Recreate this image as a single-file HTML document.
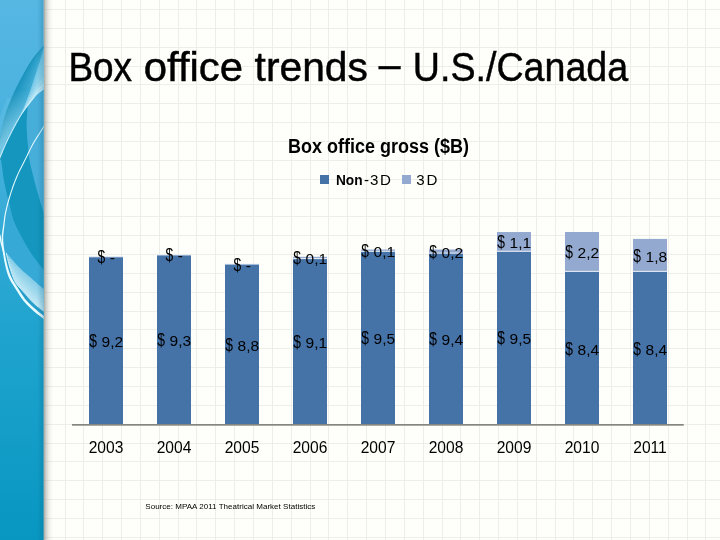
<!DOCTYPE html>
<html lang="en"><head><meta charset="utf-8"><title>Box office trends – U.S./Canada</title>
<style>
html,body{margin:0;padding:0;background:#fefefa;}
body{width:720px;height:540px;overflow:hidden;position:relative;font-family:"Liberation Sans", sans-serif;}
svg{position:absolute;left:0;top:0;display:block}
text{font-family:"Liberation Sans", sans-serif;fill:#000}
</style></head><body>
<svg width="720" height="540" viewBox="0 0 720 540">
<defs>
<linearGradient id="strip" x1="0" y1="0" x2="0" y2="1">
<stop offset="0" stop-color="#56b7e3"/><stop offset="0.25" stop-color="#49b1de"/><stop offset="0.6" stop-color="#20a4cf"/><stop offset="1" stop-color="#0797c1"/>
</linearGradient>
<linearGradient id="shadow" x1="0" y1="0" x2="1" y2="0">
<stop offset="0" stop-color="#70746e" stop-opacity="0.72"/><stop offset="0.25" stop-color="#8a8d86" stop-opacity="0.42"/><stop offset="0.6" stop-color="#9a9c94" stop-opacity="0.13"/><stop offset="1" stop-color="#b0b0a8" stop-opacity="0"/>
</linearGradient>
<linearGradient id="edge" x1="0" y1="0" x2="1" y2="0"><stop offset="0" stop-color="#04506e" stop-opacity="0"/><stop offset="1" stop-color="#04506e" stop-opacity="0.22"/></linearGradient>
<linearGradient id="fade" gradientUnits="userSpaceOnUse" x1="0" y1="90" x2="0" y2="150"><stop offset="0" stop-color="#bfe9f6" stop-opacity="0"/><stop offset="1" stop-color="#bfe9f6" stop-opacity="0.5"/></linearGradient>
<clipPath id="stripclip"><rect x="0" y="0" width="43.6" height="540"/></clipPath>
</defs>
<rect width="720" height="540" fill="#fefefa"/>
<path id="gridlines" d="M65.5 0V540M83.5 0V540M102.5 0V540M121.5 0V540M140.5 0V540M159.5 0V540M178.5 0V540M196.5 0V540M215.5 0V540M234.5 0V540M253.5 0V540M272.5 0V540M291.5 0V540M310.5 0V540M328.5 0V540M347.5 0V540M366.5 0V540M385.5 0V540M404.5 0V540M423.5 0V540M442.5 0V540M460.5 0V540M479.5 0V540M498.5 0V540M517.5 0V540M536.5 0V540M555.5 0V540M573.5 0V540M592.5 0V540M611.5 0V540M630.5 0V540M649.5 0V540M668.5 0V540M687.5 0V540M705.5 0V540M44 9.5H720M44 28.5H720M44 47.5H720M44 66.5H720M44 84.5H720M44 103.5H720M44 122.5H720M44 141.5H720M44 160.5H720M44 179.5H720M44 198.5H720M44 216.5H720M44 235.5H720M44 254.5H720M44 273.5H720M44 292.5H720M44 311.5H720M44 329.5H720M44 348.5H720M44 367.5H720M44 386.5H720M44 405.5H720M44 424.5H720M44 443.5H720M44 461.5H720M44 480.5H720M44 499.5H720M44 518.5H720M44 537.5H720" stroke="#eeeee8" stroke-width="1" fill="none" shape-rendering="crispEdges"/>
<rect x="43.4" y="0" width="10" height="540" fill="url(#shadow)"/>
<g clip-path="url(#stripclip)">
<rect x="0" y="0" width="44" height="540" fill="url(#strip)"/>
<path d="M45 88 L42.1 90.2 L39.2 92.3 L36.7 94.4 L34.6 96.8 L32.2 100 L30.8 101.7 L29.2 103.8 L28.6 105 L27.8 106.7 L27.5 109.5 L27.2 113.2 L26.9 117 L26.8 119.5 L26.7 122 L26.6 124.7 L26.7 127.8 L26.8 130.2 L27 132.9 L27.1 135.8 L27.3 138.7 L27.6 141.6 L27.8 144.4 L28.1 147.6 L28.3 150.7 L28.6 153.7 L28.9 156.8 L29.4 160 L29.9 162.7 L30.5 165.5 L31.2 168.3 L31.9 171.1 L32.6 173.9 L33.3 176.7 L34 179.5 L34.8 182.4 L35.5 185.2 L36.3 188 L37.1 190.7 L37.8 193.3 L38.6 196.2 L39.4 199 L40.2 201.7 L41 204.3 L41.7 206.7 L42.6 209.5 L43.4 212 L44.2 214.5 L45 217 L45 217Z" fill="#47aeda"/>
<path d="M27.5 106 L25.7 108.4 L23.9 110.9 L22.2 113.3 L20.6 115.8 L19.1 118.3 L17.6 121 L16.1 123.6 L14.7 126.3 L13.3 128.9 L11.9 131.5 L10.6 134.1 L9.3 136.7 L8 139.3 L6.8 141.9 L5.6 144.4 L4.3 147.4 L3 150.3 L1.9 153.2 L0.7 156.1 L-0.5 159 L1.1 160 L1.4 161.9 L1.7 164.4 L2.1 167.4 L2.5 170.6 L2.9 173.7 L3.3 176.7 L3.8 179.5 L4.3 182.4 L4.9 185.2 L5.5 188 L6.1 190.7 L6.7 193.3 L7.4 196.2 L8 198.9 L8.7 201.5 L9.3 204.1 L10 206.7 L10.6 209.4 L11.2 212.1 L11.8 214.8 L12.5 217.4 L13.3 220 L14.5 223.1 L15.9 226.2 L17.4 229.2 L18.9 232.2 L20.2 234.6 L21.5 237.1 L22.8 239.5 L24.2 242 L25.6 244.4 L27 246.9 L28.5 249.3 L30 251.8 L31.6 254.2 L33.3 256.7 L35.2 259.3 L37.3 262 L39.4 264.7 L41.3 267.1 L42.8 268.9 L45 271.7 L45 217 L44.2 214.5 L43.4 212 L42.6 209.5 L41.7 206.7 L41 204.3 L40.2 201.7 L39.4 199 L38.6 196.2 L37.8 193.3 L37.1 190.7 L36.3 188 L35.5 185.2 L34.8 182.4 L34 179.5 L33.3 176.7 L32.6 173.9 L31.9 171.1 L31.2 168.3 L30.5 165.5 L29.9 162.7 L29.4 160 L28.9 156.8 L28.6 153.7 L28.3 150.7 L28.1 147.6 L27.8 144.4 L27.6 141.6 L27.3 138.7 L27.1 135.8 L27 132.9 L26.8 130.2 L26.7 127.8 L26.6 124.7 L26.7 122 L26.8 119.5 L26.9 117 L27.2 113.2 L27.5 109.5 L27.8 106.7 L28.6 105Z" fill="#1496be"/>
<path d="M9.3 204.1 L10 206.7 L10.6 209.4 L11.2 212.1 L11.8 214.8 L12.5 217.4 L13.3 220 L14.5 223.1 L15.9 226.2 L17.4 229.2 L18.9 232.2 L20.2 234.6 L21.5 237.1 L22.8 239.5 L24.2 242 L25.6 244.4 L27 246.9 L28.5 249.3 L30 251.8 L31.6 254.2 L33.3 256.7 L35.2 259.3 L37.3 262 L39.4 264.7 L41.3 267.1 L42.8 268.9 L45 271.7 L45 290 L45 290 L43.1 288.5 L41.2 287 L38.9 285 L36.6 283 L34.1 280.7 L31.4 278.3 L28.9 276.1 L26.6 274.1 L24.4 272.3 L22.2 270.4 L20 268.3 L17.7 265.8 L15.3 263.2 L13.1 260.5 L11.1 258.3 L8.4 255.3 L6.1 252.8 L3.5 250.4 L3.1 247.6 L2.8 245 L2.5 241.9 L2.4 239.1 L2.5 236 L2.7 233.4 L3.1 230.5 L3.5 227.7 L3.9 225 L4.2 221.9 L4.5 218.9 L5 215.6 L5.5 212.8 L6.2 209.8 L6.9 206.6 L7.8 203.3Z" fill="#37a9d6"/>
<path d="M45 44.2 L40.8 49 L36.5 53.8 L32.6 58.8 L29.1 64.1 L25.9 69.6 L22.7 75.2 L19.7 80.8 L16.8 86.5 L14 92.3 L11.5 98.1 L9 104 L6.7 109.9 L4.8 116 L3.3 122.2 L1.9 128.5 L0.7 134.7 L-0.5 141 L-0.5 142.9 L1.1 136.7 L2.7 130.5 L4.3 124.2 L6.2 118.1 L8.4 112 L10.9 106.1 L13.6 100.2 L16.3 94.3 L19 88.4 L21.7 82.6 L24.5 76.8 L27.5 71 L30.5 65.4 L33.8 59.8 L37.3 54.5 L41.2 49.4 L45 44.3Z" fill="#1d94bd"/>
<path d="M45 44.3 L41.1 49.3 L37.2 54.3 L33.5 59.6 L30.2 65.1 L27.1 70.7 L24.1 76.4 L21.2 82.2 L18.5 88 L15.8 93.9 L13.1 99.7 L10.5 105.6 L8 111.6 L5.9 117.6 L4.1 123.8 L2.6 130.1 L1 136.3 L-0.5 142.5 L-0.5 144.4 L1.5 138.3 L3.4 132.1 L5.2 125.8 L7.2 119.6 L9.6 113.6 L12.3 107.7 L15.2 101.8 L18 95.9 L20.6 89.9 L23.2 83.9 L25.9 78 L28.7 72.1 L31.6 66.3 L34.7 60.6 L38 55.1 L41.5 49.7 L45 44.3Z" fill="#2398c2"/>
<path d="M45 44.3 L41.4 49.6 L37.8 54.9 L34.4 60.4 L31.3 66.1 L28.4 71.8 L25.5 77.7 L22.8 83.6 L20.2 89.5 L17.5 95.5 L14.7 101.4 L11.9 107.2 L9.3 113.2 L6.9 119.2 L4.9 125.4 L3.2 131.6 L1.4 137.8 L-0.5 144 L-0.5 145.9 L1.8 139.8 L4 133.7 L6 127.4 L8.2 121.2 L10.9 115.2 L13.8 109.3 L16.8 103.5 L19.7 97.5 L22.3 91.4 L24.7 85.3 L27.2 79.2 L29.9 73.2 L32.7 67.3 L35.6 61.4 L38.6 55.6 L41.8 50 L45 44.4Z" fill="#289cc6"/>
<path d="M45 44.4 L41.7 49.9 L38.4 55.5 L35.3 61.2 L32.4 67 L29.6 72.9 L26.9 78.9 L24.3 84.9 L21.8 91 L19.2 97.1 L16.4 103 L13.4 108.9 L10.6 114.8 L8 120.8 L5.8 127 L3.8 133.2 L1.7 139.4 L-0.5 145.5 L-0.5 147.4 L2.1 141.4 L4.6 135.3 L6.8 129 L9.3 122.8 L12.2 116.8 L15.3 111 L18.5 105.1 L21.5 99.1 L24 93 L26.3 86.7 L28.6 80.5 L31.2 74.3 L33.8 68.2 L36.5 62.2 L39.3 56.2 L42.2 50.3 L45 44.4Z" fill="#2ea0c9"/>
<path d="M45 44.4 L42.1 50.2 L39.1 56 L36.2 61.9 L33.5 68 L30.8 74 L28.2 80.1 L25.8 86.3 L23.5 92.5 L21 98.7 L18 104.6 L14.9 110.5 L11.8 116.4 L9 122.4 L6.6 128.5 L4.4 134.8 L2 140.9 L-0.5 147 L-0.5 148.9 L2.4 142.9 L5.2 136.8 L7.7 130.6 L10.3 124.4 L13.5 118.5 L16.8 112.6 L20.1 106.7 L23.2 100.7 L25.7 94.5 L27.8 88.1 L30 81.7 L32.4 75.4 L34.9 69.2 L37.4 62.9 L39.9 56.8 L42.5 50.6 L45 44.5Z" fill="#33a3cc"/>
<path d="M45 44.5 L42.4 50.6 L39.7 56.6 L37.1 62.7 L34.6 68.9 L32.1 75.1 L29.6 81.4 L27.4 87.7 L25.2 94 L22.7 100.3 L19.7 106.3 L16.4 112.1 L13.1 118 L10 124 L7.4 130.1 L5.1 136.4 L2.3 142.5 L-0.5 148.5 L-0.5 150.4 L2.8 144.5 L5.9 138.4 L8.5 132.2 L11.4 126 L14.7 120.1 L18.3 114.2 L21.8 108.4 L24.9 102.3 L27.4 96 L29.3 89.5 L31.4 83 L33.7 76.5 L36 70.1 L38.3 63.7 L40.5 57.3 L42.8 51 L45 44.6Z" fill="#39a7d0"/>
<path d="M45 44.5 L42.7 50.9 L40.4 57.2 L38 63.5 L35.7 69.9 L33.3 76.2 L31 82.6 L28.9 89.1 L26.9 95.6 L24.4 101.9 L21.3 107.9 L17.9 113.8 L14.4 119.6 L11.1 125.5 L8.3 131.7 L5.7 138 L2.7 144 L-0.5 150 L-0.5 151.5 L3 145.6 L6.3 139.6 L9.1 133.3 L12.1 127.1 L15.7 121.2 L19.3 115.4 L22.9 109.6 L26.2 103.5 L28.6 97.1 L30.4 90.5 L32.4 83.9 L34.6 77.3 L36.8 70.8 L38.9 64.3 L41 57.8 L43 51.2 L45 44.6Z" fill="#3eabd3"/>
<path d="M45 44.2 L40.8 49 L36.5 53.8 L32.6 58.8 L29.1 64.1 L25.9 69.6 L22.7 75.2 L19.7 80.8 L16.8 86.5 L14 92.3 L11.5 98.1 L9 104 L6.7 109.9 L4.8 116 L3.3 122.2 L1.9 128.5 L0.7 134.7 L-0.5 141 L-0.5 151.5 L3 145.6 L6.3 139.6 L9.1 133.3 L12.1 127.1 L15.7 121.2 L19.3 115.4 L22.9 109.6 L26.2 103.5 L28.6 97.1 L30.4 90.5 L32.4 83.9 L34.6 77.3 L36.8 70.8 L38.9 64.3 L41 57.8 L43 51.2 L45 44.6Z" fill="url(#fade)"/>
<path d="M45 44.6 L43 51.2 L41 57.8 L38.9 64.3 L36.8 70.8 L34.6 77.3 L32.4 83.9 L30.4 90.5 L28.6 97.1 L26.2 103.5 L22.9 109.6 L19.3 115.4 L15.7 121.2 L12.1 127.1 L9.1 133.3 L6.3 139.6 L3 145.6 L-0.5 151.5 L-0.5 152.9 L2.7 147.2 L5.8 141.4 L8.4 135.4 L11.3 129.6 L14.6 123.9 L18 118.4 L21.3 112.8 L24.4 107 L26.8 100.9 L28.9 94.8 L31 88.6 L33.3 82.6 L35.7 76.5 L38 70.4 L40.3 64.4 L42.7 58.5 L45 52.5Z" fill="#73c7e7"/>
<path d="M45 50.8 L42.7 56.9 L40.4 62.9 L38.2 69.1 L35.9 75.3 L33.6 81.4 L31.3 87.6 L29.2 93.8 L27.2 100.1 L24.8 106.2 L21.7 112.1 L18.3 117.7 L14.8 123.3 L11.5 129 L8.6 135 L5.9 141 L2.8 146.8 L-0.5 152.6 L-0.5 153.9 L2.5 148.4 L5.3 142.9 L7.9 137.1 L10.6 131.5 L13.7 126 L16.9 120.7 L20.1 115.3 L23.1 109.7 L25.5 104 L27.6 98.1 L29.8 92.3 L32.3 86.6 L34.8 81 L37.2 75.2 L39.7 69.6 L42.4 64.2 L45 58.7Z" fill="#7acae8"/>
<path d="M45 57 L42.5 62.6 L39.9 68.1 L37.4 73.9 L35.1 79.7 L32.6 85.5 L30.2 91.3 L28 97.2 L25.9 103.1 L23.4 109 L20.5 114.6 L17.2 120 L13.9 125.5 L10.8 130.9 L8 136.7 L5.4 142.5 L2.5 148.1 L-0.5 153.6 L-0.5 155 L2.2 149.7 L4.9 144.3 L7.3 138.8 L9.9 133.4 L12.8 128.2 L15.9 123 L18.9 117.8 L21.7 112.5 L24.1 107 L26.4 101.5 L28.7 96 L31.3 90.7 L33.9 85.4 L36.5 80 L39.1 74.8 L42.1 69.8 L45 64.9Z" fill="#81cdea"/>
<path d="M45 63.2 L42.2 68.3 L39.3 73.3 L36.7 78.7 L34.2 84.2 L31.6 89.6 L29 95 L26.7 100.6 L24.5 106.2 L22.1 111.7 L19.2 117.1 L16.2 122.3 L13.1 127.6 L10.1 132.9 L7.5 138.3 L5 143.9 L2.3 149.3 L-0.5 154.7 L-0.5 156.1 L2 150.9 L4.5 145.8 L6.8 140.5 L9.2 135.3 L12 130.3 L14.8 125.3 L17.6 120.3 L20.3 115.2 L22.8 110.1 L25.1 104.9 L27.6 99.8 L30.3 94.8 L33.1 89.8 L35.8 84.8 L38.6 80 L41.8 75.5 L45 71.1Z" fill="#88d0eb"/>
<path d="M45 69.4 L41.9 73.9 L38.7 78.5 L36 83.5 L33.3 88.6 L30.6 93.6 L27.9 98.7 L25.5 103.9 L23.2 109.2 L20.7 114.5 L18 119.6 L15.1 124.6 L12.2 129.7 L9.4 134.8 L6.9 140 L4.6 145.4 L2.1 150.6 L-0.5 155.8 L-0.5 157.2 L1.8 152.2 L4 147.2 L6.2 142.2 L8.6 137.2 L11.1 132.4 L13.7 127.6 L16.4 122.8 L19 118 L21.4 113.1 L23.9 108.2 L26.5 103.5 L29.3 98.9 L32.2 94.3 L35 89.6 L38 85.2 L41.5 81.2 L45 77.3Z" fill="#8fd3ec"/>
<path d="M45 75.6 L41.6 79.6 L38.2 83.7 L35.2 88.3 L32.4 93 L29.6 97.7 L26.8 102.4 L24.2 107.3 L21.8 112.2 L19.4 117.2 L16.7 122.1 L14 126.9 L11.4 131.8 L8.8 136.7 L6.4 141.7 L4.2 146.8 L1.9 151.8 L-0.5 156.9 L-0.5 158.2 L1.6 153.4 L3.6 148.7 L5.7 143.9 L7.9 139.2 L10.2 134.5 L12.7 129.9 L15.2 125.3 L17.6 120.7 L20.1 116.1 L22.6 111.6 L25.4 107.2 L28.3 102.9 L31.3 98.7 L34.3 94.4 L37.4 90.4 L41.2 86.9 L45 83.5Z" fill="#a0dbf0"/>
<path d="M45 81.8 L41.3 85.3 L37.6 88.9 L34.5 93.1 L31.6 97.5 L28.6 101.8 L25.7 106.2 L23 110.7 L20.5 115.3 L18 119.9 L15.5 124.6 L13 129.2 L10.5 133.9 L8.1 138.6 L5.8 143.4 L3.7 148.2 L1.6 153.1 L-0.5 157.9 L-0.5 159 L1.4 154.3 L3.3 149.7 L5.3 145.1 L7.4 140.5 L9.6 136 L11.9 131.5 L14.3 127.1 L16.7 122.7 L19.1 118.3 L21.7 114 L24.6 109.9 L27.6 105.9 L30.7 101.9 L33.7 97.9 L37 94.1 L41 91 L45 88Z" fill="#b8e6f5"/>
<path d="M11.1 98.9 L9.9 101.7 L8.8 104.5 L7.7 107.2 L6.7 110 L5.8 112.8 L5 115.5 L4.2 118.5 L3.3 122 L2.7 124.8 L2.1 127.8 L1.4 131.1 L0.8 134.4 L0.1 137.8 L-0.5 141 L-0.5 118 L3 108 L7.5 97Z" fill="#62c0e7" opacity="0.45"/>
<path d="M45 88 L42.1 90.2 L39.2 92.3 L36.7 94.4 L34.6 96.8 L32.2 100 L30.8 101.7 L29.2 103.8 L27.5 106 L25.7 108.4 L23.9 110.9 L22.2 113.3 L20.6 115.8 L19.1 118.3 L17.6 121 L16.1 123.6 L14.7 126.3 L13.3 128.9 L11.9 131.5 L10.6 134.1 L9.3 136.7 L8 139.3 L6.8 141.9 L5.6 144.4 L4.3 147.4 L3 150.3 L1.9 153.2 L0.7 156.1 L-0.5 159" fill="none" stroke="#dff7fd" stroke-width="1" opacity="0.8"/>
<path d="M6.1 252.8 L7.1 257 L8.2 261.2 L9.2 265.4 L10.4 269.5 L11.8 273.6 L13.3 277.6 L15 281.6 L17.4 285.2 L20.3 288.3 L23.2 291.6 L26 294.8 L28.9 298.1 L31.8 301.2 L34.9 304.2 L38.2 306.9 L41.6 309.6 L45 312.3 L45 307.7 L41.8 305.1 L38.6 302.6 L35.5 300 L32.5 297.2 L29.7 294.3 L27 291.2 L24.2 288.3 L21.4 285.3 L18.6 282.3 L16.3 279 L14.4 275.4 L12.8 271.8 L11.3 268 L9.9 264.2 L8.6 260.4 L7.4 256.6 L6.1 252.8Z" fill="#bee6f4"/>
<path d="M6.1 252.8 L7.3 256.7 L8.5 260.6 L9.8 264.4 L11.1 268.3 L12.6 272.1 L14.2 275.9 L16 279.5 L18.4 282.9 L21.2 285.9 L24 288.9 L26.8 291.9 L29.5 295 L32.4 298 L35.4 300.8 L38.5 303.5 L41.8 306 L45 308.6 L45 304 L42 301.5 L38.9 299.1 L35.9 296.6 L33.1 294 L30.4 291.2 L27.7 288.4 L25 285.6 L22.3 282.8 L19.6 280 L17.3 277 L15.3 273.7 L13.6 270.3 L12 266.8 L10.4 263.3 L9 259.8 L7.5 256.3 L6.1 252.8Z" fill="#b4e2f2"/>
<path d="M6.1 252.8 L7.5 256.4 L8.9 259.9 L10.3 263.5 L11.8 267.1 L13.4 270.6 L15.1 274.1 L17 277.5 L19.4 280.6 L22.1 283.4 L24.8 286.2 L27.5 289.1 L30.2 291.9 L32.9 294.8 L35.8 297.4 L38.9 300 L41.9 302.4 L45 304.9 L45 300.3 L42.1 297.9 L39.2 295.6 L36.4 293.3 L33.7 290.8 L31.1 288.1 L28.5 285.5 L25.9 282.9 L23.3 280.3 L20.6 277.7 L18.3 274.9 L16.2 271.9 L14.4 268.8 L12.6 265.6 L11 262.4 L9.4 259.2 L7.7 256 L6.1 252.8Z" fill="#a8dcef"/>
<path d="M6.1 252.8 L7.7 256.1 L9.3 259.3 L10.9 262.6 L12.5 265.9 L14.2 269.1 L16 272.3 L18 275.4 L20.4 278.3 L23 280.9 L25.7 283.5 L28.3 286.2 L30.9 288.9 L33.5 291.5 L36.3 294.1 L39.2 296.5 L42.1 298.8 L45 301.1 L45 296.5 L42.3 294.3 L39.5 292.1 L36.9 289.9 L34.3 287.5 L31.7 285.1 L29.2 282.6 L26.7 280.2 L24.2 277.8 L21.6 275.4 L19.2 272.9 L17.2 270.1 L15.2 267.3 L13.3 264.4 L11.5 261.5 L9.7 258.6 L7.9 255.7 L6.1 252.8Z" fill="#9ed8ed"/>
<path d="M6.1 252.8 L7.9 255.8 L9.6 258.7 L11.4 261.7 L13.2 264.7 L15 267.6 L16.9 270.5 L19 273.4 L21.4 276 L24 278.4 L26.5 280.9 L29.1 283.3 L31.6 285.8 L34.1 288.3 L36.8 290.7 L39.5 293 L42.2 295.2 L45 297.4 L45 292.8 L42.4 290.7 L39.8 288.6 L37.3 286.5 L34.9 284.3 L32.4 282 L30 279.8 L27.6 277.5 L25.1 275.3 L22.6 273.1 L20.2 270.8 L18.1 268.3 L16 265.8 L14 263.2 L12.1 260.6 L10.1 258 L8.1 255.4 L6.1 252.8Z" fill="#94d4eb"/>
<path d="M6.1 252.8 L8.1 255.5 L10 258.1 L11.9 260.8 L13.9 263.5 L15.8 266.1 L17.9 268.8 L20 271.3 L22.4 273.7 L24.9 275.9 L27.4 278.2 L29.8 280.5 L32.3 282.8 L34.7 285.1 L37.2 287.3 L39.8 289.5 L42.4 291.6 L45 293.7 L45 290 L42.5 288 L40.1 286 L37.7 283.9 L35.3 281.8 L32.9 279.7 L30.6 277.6 L28.2 275.5 L25.8 273.4 L23.4 271.4 L21 269.3 L18.8 267 L16.6 264.7 L14.5 262.3 L12.5 259.9 L10.4 257.5 L8.2 255.1 L6.1 252.8Z" fill="#8bcfe9"/>
<path d="M6.1 252.8 L6.8 255.7 L7.5 258.7 L8.3 261.7 L9.1 264.9 L10 268.2 L11.1 271.7 L12.1 274.5 L13.2 277.6 L14.4 280.4 L15.6 282.8 L17.7 285.7 L20 288 L21.7 289.9 L23.5 292 L25.6 294.3 L27.3 296.3 L29.2 298.5 L31.2 300.7 L33.3 302.8 L35.7 304.9 L38.4 307.1 L40.9 309 L42.8 310.5 L45 312.3 L45 318.3 L42.8 316.7 L41.2 315.5 L39.1 313.9 L36.8 312 L34.4 310 L32.5 308.3 L30.5 306.4 L28.4 304.4 L26.3 302.3 L24.4 300 L22.5 297.5 L20.6 294.7 L18.8 291.9 L17.1 289.2 L15.6 286.7 L13.9 284.1 L12.5 281.7 L11.2 279.5 L10 277.2 L9 274.8 L8.1 272.3 L7.4 269.8 L6.7 267.2 L6 264.5 L5.4 261.7 L4.9 258.8 L4.4 256Z" fill="#279dca"/>
<path d="M6.1 252.8 L6.8 255.7 L7.5 258.7 L8.3 261.7 L9.1 264.9 L10 268.2 L11.1 271.7 L12.1 274.5 L13.2 277.6 L14.4 280.4 L15.6 282.8 L17.7 285.7 L20 288 L21.7 289.9 L23.5 292 L25.6 294.3 L27.3 296.3 L29.2 298.5 L31.2 300.7 L33.3 302.8 L35.7 304.9 L38.4 307.1 L40.9 309 L42.8 310.5 L45 312.3" fill="none" stroke="#d4f2fa" stroke-width="0.9"/>
<path d="M44.6 124.7 L42 128.6 L39.5 132.4 L37 136.3 L34.5 140.2 L32.2 144.2 L30.1 148.4 L28 152.5 L26 156.7 L24 160.8 L21.9 164.9 L19.8 169 L17.8 173.2 L15.9 177.4 L14.2 181.8 L12.6 186.1 L11.1 190.5 L9.7 194.9 L8.3 199.3 L7.1 203.8 L6 208.3 L5 212.8 L4.1 217.4 L3.6 222 L3 226.5 L2.3 231.1 L1.8 235.7 L1.7 240.4 L2 245.1 L2.5 249.7 L3.2 254.3 L3.9 258.9 L4.8 263.4 L5.8 268 L7 272.5 L8.6 277 L10.7 281.2 L13.2 285.2 L15.6 289.1 L18.1 293 L20.6 296.9 L23.4 300.7 L26.5 304.3 L29.8 307.5 L33.3 310.7 L36.8 313.7 L40.5 316.6 L44.2 319.3 L45.8 317.3 L42.1 314.5 L38.4 311.7 L35 308.8 L31.6 305.7 L28.3 302.5 L25.3 299.2 L22.7 295.5 L20.2 291.7 L17.7 287.8 L15.2 283.9 L12.8 280 L10.8 276 L9.2 271.8 L7.9 267.4 L6.8 263 L5.8 258.5 L5 254 L4.2 249.5 L3.6 244.9 L3.2 240.4 L3.2 235.8 L3.7 231.3 L4.3 226.7 L4.8 222.1 L5.3 217.5 L6.1 213 L7.1 208.5 L8.2 204.1 L9.4 199.6 L10.7 195.2 L12.1 190.8 L13.6 186.5 L15.2 182.1 L16.9 177.9 L18.7 173.6 L20.7 169.5 L22.8 165.4 L24.9 161.3 L27 157.1 L29 153 L31 148.8 L33.1 144.7 L35.4 140.8 L37.8 136.9 L40.3 133 L42.9 129.1 L45.4 125.3Z" fill="#e8fbff"/>
<path d="M-1.8 233.8 L-0.7 236.7 L-0.1 239.8 L0.5 243 L1.3 246.1 L2.1 249.1 L2.9 252.2 L3.6 255.3 L4.8 255.1 L4.1 251.9 L3.4 248.8 L2.6 245.7 L1.9 242.7 L1.3 239.5 L0.8 236.3 L-0.2 233.2Z" fill="#e8fbff"/>
<rect x="37" y="0" width="7" height="540" fill="url(#edge)"/>
</g>
<g id="title" font-size="40.4" stroke="#000" stroke-width="0.45"><text class="tw" id="tw0" transform="translate(68.41 80.7) scale(0.9149 1)">Box</text><text class="tw" id="tw1" transform="translate(143.76 80.7) scale(1.0366 1)">office</text><text class="tw" id="tw2" transform="translate(254.60 80.7) scale(1.0090 1)">trends</text><text class="tw" id="tw3" transform="translate(378.86 78.0) scale(0.9676 1)">–</text><text class="tw" id="tw4" transform="translate(412.86 80.7) scale(0.9310 1)">U.S./Canada</text></g>
<text id="ctitle" x="288" y="152.6" font-size="19.4" font-weight="bold" textLength="181" lengthAdjust="spacingAndGlyphs">Box office gross ($B)</text>
<rect x="320" y="175" width="9" height="9" fill="#4572A7"/><text id="lg1" x="335.9" y="185.4" font-size="15.1"><tspan font-weight="bold" textLength="26.6" lengthAdjust="spacingAndGlyphs">Non</tspan><tspan dx="1.6">-</tspan><tspan dx="0.9">3</tspan><tspan dx="1.6">D</tspan></text><rect x="402" y="175" width="9" height="9" fill="#93A9CF"/><text id="lg2" x="416.3" y="185.4" font-size="15.1">3<tspan dx="1.7">D</tspan></text>
<rect x="89.00" y="256.81" width="34.00" height="167.99" fill="#4572A7"/><rect x="89.00" y="256.21" width="34.00" height="1.1" fill="#e9eef5" opacity="0.9"/>
<rect x="157.00" y="254.98" width="34.00" height="169.82" fill="#4572A7"/><rect x="157.00" y="254.38" width="34.00" height="1.1" fill="#e9eef5" opacity="0.9"/>
<rect x="225.00" y="264.11" width="34.00" height="160.69" fill="#4572A7"/><rect x="225.00" y="263.51" width="34.00" height="1.1" fill="#e9eef5" opacity="0.9"/>
<rect x="293.00" y="258.63" width="34.00" height="166.17" fill="#4572A7"/><rect x="293.00" y="256.81" width="34.00" height="1.83" fill="#93A9CF"/><rect x="293.00" y="258.03" width="34.00" height="1.1" fill="#e9eef5" opacity="0.9"/>
<rect x="361.00" y="251.33" width="34.00" height="173.47" fill="#4572A7"/><rect x="361.00" y="249.50" width="34.00" height="1.83" fill="#93A9CF"/><rect x="361.00" y="250.73" width="34.00" height="1.1" fill="#e9eef5" opacity="0.9"/>
<rect x="429.00" y="253.16" width="34.00" height="171.64" fill="#4572A7"/><rect x="429.00" y="249.50" width="34.00" height="3.65" fill="#93A9CF"/><rect x="429.00" y="252.56" width="34.00" height="1.1" fill="#e9eef5" opacity="0.9"/>
<rect x="497.00" y="251.33" width="34.00" height="173.47" fill="#4572A7"/><rect x="497.00" y="232.03" width="34.00" height="19.30" fill="#93A9CF"/><rect x="497.00" y="250.73" width="34.00" height="1.1" fill="#e9eef5" opacity="0.9"/>
<rect x="565.00" y="271.42" width="34.00" height="153.38" fill="#4572A7"/><rect x="565.00" y="232.01" width="34.00" height="39.41" fill="#93A9CF"/><rect x="565.00" y="270.82" width="34.00" height="1.1" fill="#e9eef5" opacity="0.9"/>
<rect x="633.00" y="271.42" width="34.00" height="153.38" fill="#4572A7"/><rect x="633.00" y="238.91" width="34.00" height="32.50" fill="#93A9CF"/><rect x="633.00" y="270.82" width="34.00" height="1.1" fill="#e9eef5" opacity="0.9"/>
<rect x="72" y="424" width="611.75" height="1.7" fill="#86867f"/>
<text class="l1" id="a0" x="89.22" y="347.20" font-size="15.5"><tspan font-size="17.8" textLength="7.7" lengthAdjust="spacingAndGlyphs">$</tspan><tspan dx="0.4"> 9,2</tspan></text><text class="l2" id="b0" x="97.41" y="263.21" font-size="15.5"><tspan font-size="17.8" textLength="7.7" lengthAdjust="spacingAndGlyphs">$</tspan><tspan dx="0.4"> -</tspan></text><text class="yr" id="y0" x="106.00" y="452.8" font-size="15.6" text-anchor="middle">2003</text>
<text class="l1" id="a1" x="157.22" y="346.29" font-size="15.5"><tspan font-size="17.8" textLength="7.7" lengthAdjust="spacingAndGlyphs">$</tspan><tspan dx="0.4"> 9,3</tspan></text><text class="l2" id="b1" x="165.41" y="261.38" font-size="15.5"><tspan font-size="17.8" textLength="7.7" lengthAdjust="spacingAndGlyphs">$</tspan><tspan dx="0.4"> -</tspan></text><text class="yr" id="y1" x="174.00" y="452.8" font-size="15.6" text-anchor="middle">2004</text>
<text class="l1" id="a2" x="225.22" y="350.86" font-size="15.5"><tspan font-size="17.8" textLength="7.7" lengthAdjust="spacingAndGlyphs">$</tspan><tspan dx="0.4"> 8,8</tspan></text><text class="l2" id="b2" x="233.41" y="270.51" font-size="15.5"><tspan font-size="17.8" textLength="7.7" lengthAdjust="spacingAndGlyphs">$</tspan><tspan dx="0.4"> -</tspan></text><text class="yr" id="y2" x="242.00" y="452.8" font-size="15.6" text-anchor="middle">2005</text>
<text class="l1" id="a3" x="293.22" y="348.12" font-size="15.5"><tspan font-size="17.8" textLength="7.7" lengthAdjust="spacingAndGlyphs">$</tspan><tspan dx="0.4"> 9,1</tspan></text><text class="l2" id="b3" x="293.22" y="264.12" font-size="15.5"><tspan font-size="17.8" textLength="7.7" lengthAdjust="spacingAndGlyphs">$</tspan><tspan dx="0.4"> 0,1</tspan></text><text class="yr" id="y3" x="310.00" y="452.8" font-size="15.6" text-anchor="middle">2006</text>
<text class="l1" id="a4" x="361.22" y="344.46" font-size="15.5"><tspan font-size="17.8" textLength="7.7" lengthAdjust="spacingAndGlyphs">$</tspan><tspan dx="0.4"> 9,5</tspan></text><text class="l2" id="b4" x="361.22" y="256.82" font-size="15.5"><tspan font-size="17.8" textLength="7.7" lengthAdjust="spacingAndGlyphs">$</tspan><tspan dx="0.4"> 0,1</tspan></text><text class="yr" id="y4" x="378.00" y="452.8" font-size="15.6" text-anchor="middle">2007</text>
<text class="l1" id="a5" x="429.22" y="345.38" font-size="15.5"><tspan font-size="17.8" textLength="7.7" lengthAdjust="spacingAndGlyphs">$</tspan><tspan dx="0.4"> 9,4</tspan></text><text class="l2" id="b5" x="429.22" y="257.73" font-size="15.5"><tspan font-size="17.8" textLength="7.7" lengthAdjust="spacingAndGlyphs">$</tspan><tspan dx="0.4"> 0,2</tspan></text><text class="yr" id="y5" x="446.00" y="452.8" font-size="15.6" text-anchor="middle">2008</text>
<text class="l1" id="a6" x="497.22" y="344.46" font-size="15.5"><tspan font-size="17.8" textLength="7.7" lengthAdjust="spacingAndGlyphs">$</tspan><tspan dx="0.4"> 9,5</tspan></text><text class="l2" id="b6" x="497.22" y="248.08" font-size="15.5"><tspan font-size="17.8" textLength="7.7" lengthAdjust="spacingAndGlyphs">$</tspan><tspan dx="0.4"> 1,1</tspan></text><text class="yr" id="y6" x="514.00" y="452.8" font-size="15.6" text-anchor="middle">2009</text>
<text class="l1" id="a7" x="565.22" y="354.51" font-size="15.5"><tspan font-size="17.8" textLength="7.7" lengthAdjust="spacingAndGlyphs">$</tspan><tspan dx="0.4"> 8,4</tspan></text><text class="l2" id="b7" x="565.22" y="258.11" font-size="15.5"><tspan font-size="17.8" textLength="7.7" lengthAdjust="spacingAndGlyphs">$</tspan><tspan dx="0.4"> 2,2</tspan></text><text class="yr" id="y7" x="582.00" y="452.8" font-size="15.6" text-anchor="middle">2010</text>
<text class="l1" id="a8" x="633.22" y="354.51" font-size="15.5"><tspan font-size="17.8" textLength="7.7" lengthAdjust="spacingAndGlyphs">$</tspan><tspan dx="0.4"> 8,4</tspan></text><text class="l2" id="b8" x="633.22" y="261.56" font-size="15.5"><tspan font-size="17.8" textLength="7.7" lengthAdjust="spacingAndGlyphs">$</tspan><tspan dx="0.4"> 1,8</tspan></text><text class="yr" id="y8" x="650.00" y="452.8" font-size="15.6" text-anchor="middle">2011</text>
<text id="src" x="145.3" y="509.1" font-size="8" textLength="170" lengthAdjust="spacing">Source: MPAA 2011 Theatrical Market Statistics</text>
</svg>
</body></html>
